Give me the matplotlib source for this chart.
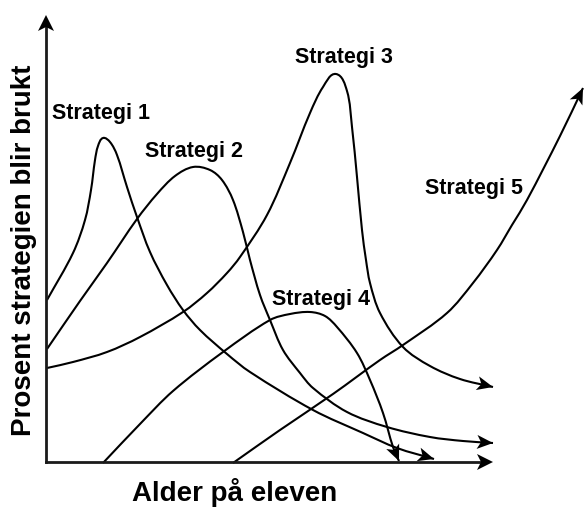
import numpy as np
import matplotlib
matplotlib.use("Agg")
import matplotlib.pyplot as plt
from matplotlib.path import Path
from matplotlib.patches import PathPatch, Polygon

# Koordinater lest av bildet (piksler, y nedover)
strategi1 = [(47, 300), (73, 253), (85, 220), (91, 190), (95, 160), (98, 146),
             (103, 138), (110, 142), (117, 155), (127, 187), (137, 217), (150, 252),
             (167, 285), (183, 310), (200, 330), (227, 354), (250, 372), (313, 410),
             (363, 433), (397, 448), (434, 459)]
strategi2 = [(47, 349), (80, 301), (107, 263), (137, 219), (157, 194), (175, 176),
             (193, 167), (210, 170), (222, 180), (233, 200), (243, 232), (250, 260),
             (260, 295), (270, 320), (283, 350), (300, 373), (313, 388), (347, 412),
             (387, 427), (430, 437), (463, 441), (493, 443)]
strategi3 = [(47, 368), (73, 362), (107, 352), (140, 337), (183, 312), (207, 293),
             (227, 273), (240, 257), (267, 215), (290, 163), (310, 113), (323, 87),
             (336, 74), (347, 91), (352, 127), (357, 177), (362, 230), (366, 260),
             (370, 283), (380, 313), (403, 347), (430, 366), (460, 379), (493, 387)]
strategi4 = [(103, 463), (140, 424), (173, 391), (223, 352), (270, 320), (290, 314),
             (310, 312), (325, 316), (337, 327), (357, 353), (370, 380), (383, 413),
             (393, 447), (399, 461)]
strategi5 = [(233, 463), (280, 430), (333, 394), (380, 360), (403, 345), (447, 313),
             (473, 283), (497, 250), (512, 225), (527, 200), (560, 136), (583, 88)]

kurver = [strategi1, strategi2, strategi3, strategi4, strategi5]

etiketter = ["Strategi 1", "Strategi 2", "Strategi 3", "Strategi 4", "Strategi 5"]
etikett_pos = [(52, 119), (145, 157), (295, 63), (272, 305), (425, 194)]

origo = (46, 462)
y_topp = 15
x_slutt = 493


def glatt_sti(punkter):
    # glatt kurve gjennom punktene (kubiske Bezier-segmenter)
    p = np.array(punkter, dtype=float)
    n = len(p)
    tang = np.zeros_like(p)
    for i in range(n):
        a = p[max(i - 1, 0)]
        b = p[min(i + 1, n - 1)]
        t = b - a
        tang[i] = t / np.linalg.norm(t)
    verts = [p[0]]
    codes = [Path.MOVETO]
    for i in range(n - 1):
        L = np.linalg.norm(p[i + 1] - p[i]) / 3
        verts += [p[i] + tang[i] * L, p[i + 1] - tang[i + 1] * L, p[i + 1]]
        codes += [Path.CURVE4] * 3
    return Path(verts, codes)


def pilhode(ax, fra, til, L=16, W=7, hakk=4):
    fra = np.array(fra, float)
    til = np.array(til, float)
    d = (til - fra) / np.linalg.norm(til - fra)
    n = np.array([-d[1], d[0]])
    pts = [til, til - L * d + W * n, til - (L - hakk) * d, til - L * d - W * n]
    ax.add_patch(Polygon(pts, closed=True, color="black", lw=0, zorder=5))


fig = plt.figure(figsize=(5.84, 5.07), dpi=100)
ax = fig.add_axes([0, 0, 1, 1])
ax.set_xlim(0, 584)
ax.set_ylim(507, 0)
ax.axis("off")

for k in kurver:
    ax.add_patch(PathPatch(glatt_sti(k), fill=False, lw=1.5, edgecolor="black",
                           capstyle="butt"))
    pilhode(ax, k[-2], k[-1])

# akser
ax.plot([origo[0], origo[0]], [origo[1], y_topp + 10], color="#1a1a1a", lw=2.0)
ax.plot([origo[0], x_slutt - 10], [origo[1], origo[1]], color="#1a1a1a", lw=2.0)
pilhode(ax, (origo[0], origo[1]), (origo[0], y_topp), L=16, W=8)
pilhode(ax, (origo[0], origo[1]), (x_slutt, origo[1]), L=16, W=8)

font = dict(family="Liberation Sans", weight="bold")
for tekst, (x, y) in zip(etiketter, etikett_pos):
    ax.text(x, y, tekst, fontsize=15.5, ha="left", va="baseline", **font)

ax.text(235, 501, "Alder på eleven", fontsize=20, ha="center", va="baseline", **font)
ax.text(31, 250, "Prosent strategien blir brukt", fontsize=20, rotation=90,
        rotation_mode="anchor", ha="center", va="baseline", **font)

plt.savefig("out.png", dpi=100)
